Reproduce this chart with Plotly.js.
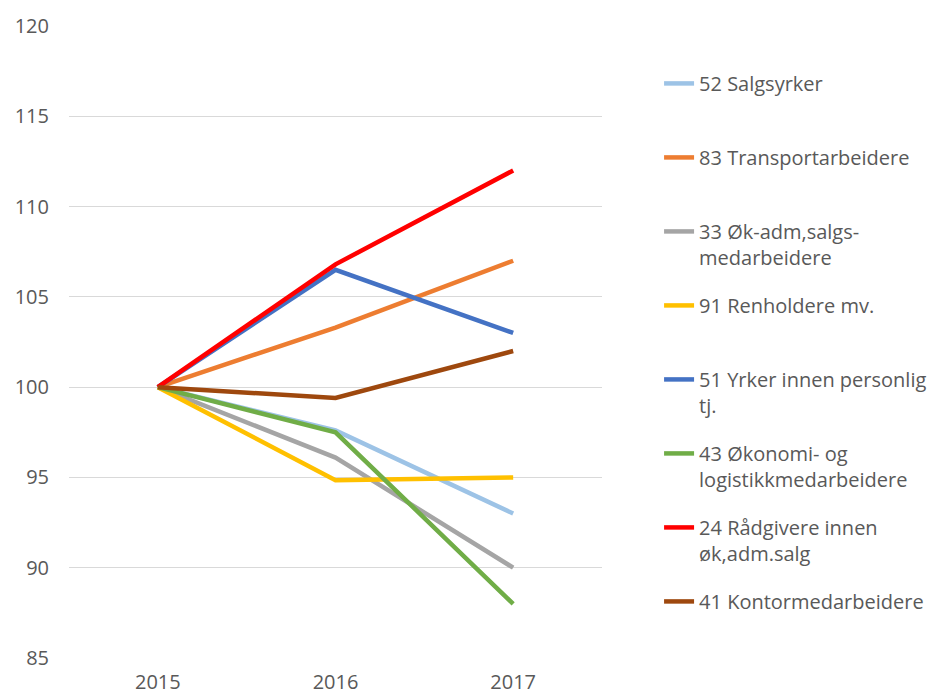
<!DOCTYPE html>
<html>
<head>
<meta charset="utf-8">
<script src="https://cdn.plot.ly/plotly-3.0.1.min.js"></script>
<style>html,body{margin:0;padding:0;background:#fff;}#chart{width:943px;height:697px;}</style>
</head>
<body>
<div id="chart"></div>
<script>
const years = ["2015", "2016", "2017"];
const seriesNames = [
  "52 Salgsyrker<br> ",
  "83 Transportarbeidere<br> ",
  "33 Øk-adm,salgs-<br>medarbeidere",
  "91 Renholdere mv.<br> ",
  "51 Yrker innen personlig<br>tj.",
  "43 Økonomi- og<br>logistikkmedarbeidere",
  "24 Rådgivere innen<br>øk,adm.salg",
  "41 Kontormedarbeidere<br> "
];
const salgsyrker = [100, 97.6, 93.0];
const transport = [100, 103.3, 107.0];
const okAdmSalgs = [100, 96.1, 90.0];
const renholdere = [100, 94.85, 95.0];
const personligTj = [100, 106.5, 103.0];
const okonomiLogistikk = [100, 97.5, 88.0];
const radgivere = [100, 106.8, 112.0];
const kontor = [100, 99.4, 102.0];
const seriesValues = [salgsyrker, transport, okAdmSalgs, renholdere, personligTj, okonomiLogistikk, radgivere, kontor];
const colors = ["#9dc3e6", "#ed7d31", "#a5a5a5", "#ffc000", "#4472c4", "#70ad47", "#ff0000", "#9e480e"];
const yTicks = [85, 90, 95, 100, 105, 110, 115, 120];

const traces = seriesValues.map((vals, i) => ({
  type: "scatter",
  mode: "lines",
  x: years,
  y: vals,
  name: seriesNames[i],
  legendgroup: "g" + i,
  line: {color: colors[i], width: 4.5},
  hoverinfo: "skip"
}));

const layout = {
  width: 943,
  height: 697,
  margin: {l: 69, r: 340, t: 26, b: 39},
  paper_bgcolor: "#ffffff",
  plot_bgcolor: "#ffffff",
  font: {family: "Open Sans, sans-serif", color: "#595959", size: 20},
  showlegend: true,
  legend: {
    x: 1.105, xanchor: "left",
    y: 0.94, yanchor: "top",
    valign: "top",
    tracegroupgap: 19,
    font: {size: 20, color: "#595959"},
    bgcolor: "rgba(0,0,0,0)"
  },
  xaxis: {
    type: "category",
    range: [-0.5, 2.5],
    showgrid: false,
    showline: false,
    zeroline: false,
    ticks: "",
    ticklabelstandoff: 10,
    tickfont: {size: 20, color: "#595959"},
    fixedrange: true
  },
  yaxis: {
    range: [85, 120],
    tickvals: yTicks,
    showgrid: true,
    gridcolor: "#d9d9d9",
    gridwidth: 1,
    zeroline: false,
    showline: false,
    ticks: "",
    ticklabelstandoff: 19,
    tickfont: {size: 20, color: "#595959"},
    fixedrange: true
  }
};

Plotly.newPlot("chart", traces, layout, {displayModeBar: false, staticPlot: true});
</script>
</body>
</html>
